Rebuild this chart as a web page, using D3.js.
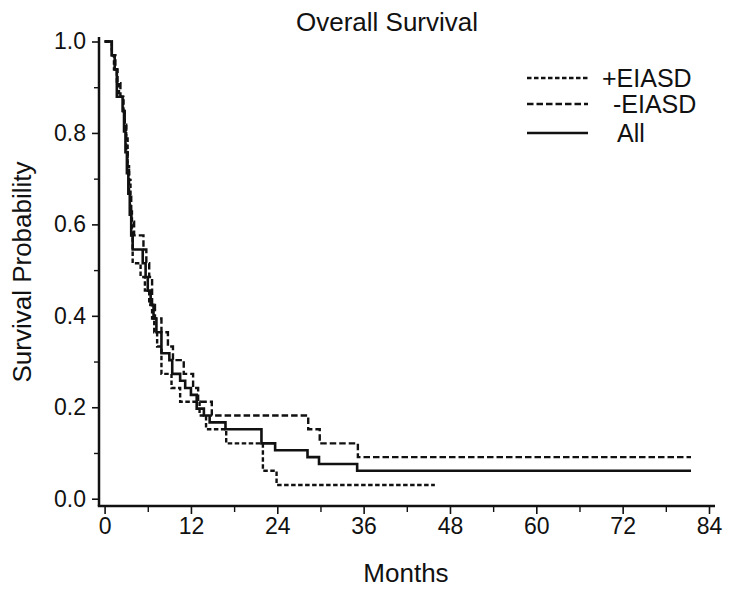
<!DOCTYPE html>
<html><head><meta charset="utf-8">
<script src="https://cdn.jsdelivr.net/npm/d3@7/dist/d3.min.js"></script>
<style>body{margin:0;background:#fff}svg{display:block}text{font-family:"Liberation Sans",Arial,sans-serif;fill:#111}</style>
</head><body><svg id="c" width="729" height="589"></svg>
<script>
const title = "Overall Survival";
const xLabel = "Months";
const yLabel = "Survival Probability";
const xTicks = [0, 12, 24, 36, 48, 60, 72, 84];
const xMinorTicks = [6, 18, 30, 42, 54, 66, 78];
const yTicks = [0.0, 0.2, 0.4, 0.6, 0.8, 1.0];
const yMinorTicks = [0.1, 0.3, 0.5, 0.7, 0.9];
const seriesNames = ["+EIASD", "-EIASD", "All"];

const plusT = [0, 1.0, 1.3, 1.7, 2.0, 2.6, 2.8, 3.0, 3.2, 3.4, 3.6, 3.8, 3.9, 5.0, 5.6, 6.2, 6.6, 6.9, 7.3, 7.9, 9.3, 10.5, 13.2, 14.1, 16.9, 22.0, 23.9, 45.9];
const plusS = [1.0, 0.970, 0.939, 0.909, 0.879, 0.848, 0.818, 0.788, 0.727, 0.697, 0.636, 0.576, 0.515, 0.485, 0.455, 0.424, 0.394, 0.364, 0.333, 0.273, 0.242, 0.212, 0.182, 0.152, 0.121, 0.061, 0.030, 0.030];

const minusT = [0, 1.0, 1.5, 1.8, 2.2, 2.6, 2.8, 3.0, 3.2, 3.4, 3.7, 4.1, 5.4, 5.8, 6.2, 6.6, 7.0, 7.9, 8.8, 9.5, 11.0, 12.3, 13.0, 14.9, 28.3, 29.9, 35.2, 81.5];
const minusS = [1.0, 0.970, 0.939, 0.909, 0.879, 0.848, 0.818, 0.758, 0.727, 0.667, 0.606, 0.576, 0.545, 0.515, 0.485, 0.424, 0.394, 0.364, 0.333, 0.303, 0.273, 0.242, 0.212, 0.182, 0.152, 0.121, 0.091, 0.091];

const allT = [0, 1.0, 1.4, 1.7, 2.5, 2.7, 2.9, 3.1, 3.3, 3.5, 3.7, 3.9, 5.3, 5.7, 6.0, 6.4, 6.8, 7.2, 7.9, 9.0, 9.4, 10.5, 11.2, 12.0, 12.8, 13.8, 14.6, 16.8, 21.8, 23.7, 28.2, 29.8, 35.1, 81.5];
const allS = [1.0, 0.970, 0.939, 0.879, 0.848, 0.803, 0.758, 0.712, 0.667, 0.621, 0.576, 0.545, 0.515, 0.485, 0.455, 0.424, 0.394, 0.364, 0.318, 0.303, 0.273, 0.258, 0.242, 0.227, 0.197, 0.182, 0.167, 0.152, 0.121, 0.106, 0.091, 0.076, 0.061, 0.061];

const svg = d3.select("#c");
const x = d3.scaleLinear().domain([0, 84]).range([104.6, 709]);
const y = d3.scaleLinear().domain([0, 1]).range([498.7, 41.5]);
const axX = 99, axY = 506;

const g = svg.append("g");
g.append("line").attr("x1", axX).attr("x2", axX).attr("y1", 37).attr("y2", axY).attr("stroke", "#111").attr("stroke-width", 2.5);
g.append("line").attr("x1", axX - 1.2).attr("x2", 715).attr("y1", axY).attr("y2", axY).attr("stroke", "#111").attr("stroke-width", 2.5);

const xAxis = d3.axisBottom(x).tickValues(xTicks).tickSize(8).tickPadding(4).tickFormat(d3.format("d"));
const xg = g.append("g").attr("transform", `translate(0,${axY})`).call(xAxis);
xg.select(".domain").remove();
xg.selectAll("line").attr("stroke", "#111").attr("stroke-width", 1.6);
xg.selectAll("text").style("font-size", "23px").attr("font-family", null).attr("fill", "#111");
const xmg = g.append("g").attr("transform", `translate(0,${axY})`).call(d3.axisBottom(x).tickValues(xMinorTicks).tickSize(6).tickFormat(""));
xmg.select(".domain").remove();
xmg.selectAll("line").attr("stroke", "#111").attr("stroke-width", 1.4);

const yAxis = d3.axisLeft(y).tickValues(yTicks).tickSize(7).tickPadding(6).tickFormat(d3.format(".1f"));
const yg = g.append("g").attr("transform", `translate(${axX},0)`).call(yAxis);
yg.select(".domain").remove();
yg.selectAll("line").attr("stroke", "#111").attr("stroke-width", 1.6);
yg.selectAll("text").style("font-size", "23px").attr("font-family", null).attr("fill", "#111");
const ymg = g.append("g").attr("transform", `translate(${axX},0)`).call(d3.axisLeft(y).tickValues(yMinorTicks).tickSize(5).tickFormat(""));
ymg.select(".domain").remove();
ymg.selectAll("line").attr("stroke", "#111").attr("stroke-width", 1.4);

svg.append("text").attr("x", 387).attr("y", 31).attr("text-anchor", "middle").style("font-size", "26px").text(title);
svg.append("text").attr("x", 406).attr("y", 582).attr("text-anchor", "middle").style("font-size", "26px").text(xLabel);
svg.append("text").attr("transform", "translate(31,272) rotate(-90)").attr("text-anchor", "middle").style("font-size", "26px").text(yLabel);

const styles = [
  {dash: "4.5,2.5", w: 2.4},
  {dash: "6.5,3", w: 2.4},
  {dash: null, w: 2.6}
];
const data = [d3.zip(plusT, plusS), d3.zip(minusT, minusS), d3.zip(allT, allS)];
const line = d3.line().x(d => x(d[0])).y(d => y(d[1])).curve(d3.curveStepAfter);
data.forEach((pts, i) => {
  svg.append("path").attr("d", line(pts)).attr("fill", "none").attr("stroke", "#111")
    .attr("stroke-width", styles[i].w).attr("stroke-dasharray", styles[i].dash);
});

const legY = [78, 104, 133];
const legTextX = [602, 613, 617];
seriesNames.forEach((name, i) => {
  svg.append("line").attr("x1", 527).attr("x2", 588).attr("y1", legY[i]).attr("y2", legY[i])
    .attr("stroke", "#111").attr("stroke-width", styles[i].w).attr("stroke-dasharray", styles[i].dash);
  svg.append("text").attr("x", legTextX[i]).attr("y", legY[i] + 9).style("font-size", "25px").text(name);
});
</script></body></html>
